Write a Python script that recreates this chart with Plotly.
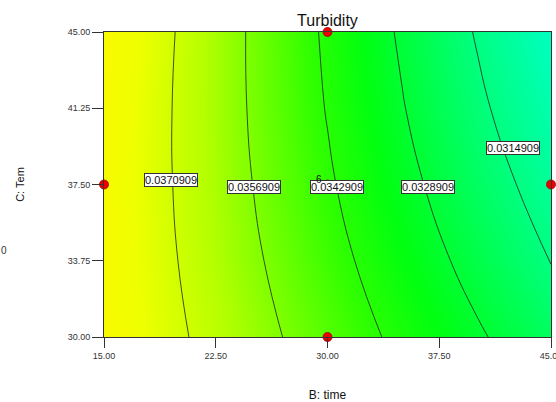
import plotly.graph_objects as go

# axis grid (B: time, C: Tem) and estimated turbidity response
time_vals = [15, 20, 25, 30, 35, 40, 45]
tem_vals = [30, 33.75, 37.5, 41.25, 45]
turbidity = [
    [0.038430, 0.037249, 0.036119, 0.035040, 0.034013, 0.033035, 0.032110],
    [0.038348, 0.037080, 0.035863, 0.034698, 0.033583, 0.032520, 0.031460],
    [0.038340, 0.036985, 0.035683, 0.034430, 0.033229, 0.032079, 0.030980],
    [0.038408, 0.036967, 0.035576, 0.034238, 0.032950, 0.031713, 0.030528],
    [0.038550, 0.037022, 0.035546, 0.034120, 0.032746, 0.031422, 0.030150],
]

# contour levels shown on the chart and where their labels sit
levels = [0.0314909, 0.0328909, 0.0342909, 0.0356909, 0.0370909]
label_time = [42.45, 36.74, 30.64, 25.07, 19.5]
label_tem = [39.3, 37.38, 37.38, 37.38, 37.72]

# design points
pt_time = [15, 30, 30, 30, 45]
pt_tem = [37.5, 45, 37.5, 30, 37.5]
center_count = "6"

zlo, zhi = 0.0300, 0.0388
stops = [
    (0.0300, "#00FFC8"),
    (0.0318, "#00FF70"),
    (0.0335, "#00FF10"),
    (0.0345, "#30FF00"),
    (0.0365, "#B4FF00"),
    (0.0378, "#EEFF00"),
    (0.0388, "#FFF800"),
]
colorscale = [[(v - zlo) / (zhi - zlo), c] for v, c in stops]

fig = go.Figure()

fig.add_trace(go.Contour(
    x=time_vals, y=tem_vals, z=turbidity,
    zmin=zlo, zmax=zhi,
    colorscale=colorscale,
    showscale=False,
    contours=dict(coloring="heatmap", start=levels[0], end=levels[-1],
                  size=levels[1] - levels[0], showlabels=False),
    line=dict(color="#222", width=0.8, smoothing=1.3),
    hoverinfo="skip",
))

fig.add_trace(go.Scatter(
    x=pt_time, y=pt_tem, mode="markers",
    marker=dict(size=9, color="#EE0000", line=dict(color="#990000", width=0.8)),
    cliponaxis=False, showlegend=False, hoverinfo="skip",
))

for lv, lx, ly in zip(levels, label_time, label_tem):
    fig.add_annotation(
        x=lx, y=ly, text=f"{lv:.7f}", showarrow=False,
        font=dict(size=11, color="#111"),
        bgcolor="white", bordercolor="#333", borderwidth=1, borderpad=0,
    )

fig.add_annotation(x=30, y=37.5, text=center_count, showarrow=False,
                   xshift=-9, yshift=5, font=dict(size=10, color="#111"))
fig.add_annotation(x=-0.226, y=0.259, xref="paper", yref="paper", text="0",
                   showarrow=False, xshift=-4, font=dict(size=10, color="#333"))

fig.update_layout(
    width=556, height=402,
    margin=dict(l=104, r=5, t=32, b=65),
    paper_bgcolor="white", plot_bgcolor="white",
    font=dict(family="Arial, Liberation Sans, sans-serif", color="#333"),
    title=dict(text="Turbidity", x=0.589, xanchor="center", y=0.95, yanchor="middle",
               font=dict(size=16, color="#111")),
    xaxis=dict(range=[15, 45], tickvals=[15, 22.5, 30, 37.5, 45],
               ticktext=["15.00", "22.50", "30.00", "37.50", "45.00"],
               ticks="outside", ticklen=10, tickcolor="#333", showline=True,
               linecolor="#333", mirror=True, showgrid=False, zeroline=False,
               automargin=False, ticklabeloverflow="allow", tickfont=dict(size=9),
               title=dict(text="B: time", standoff=32, font=dict(size=12, color="#111"))),
    yaxis=dict(range=[30, 45], tickvals=[30, 33.75, 37.5, 41.25, 45],
               ticktext=["30.00", "33.75", "37.50", "41.25", "45.00"],
               ticks="outside", ticklen=11, tickcolor="#333", showline=True,
               linecolor="#333", mirror=True, showgrid=False, zeroline=False,
               automargin=False, tickfont=dict(size=9),
               title=dict(text="C: Tem", standoff=40, font=dict(size=11, color="#111"))),
)

# drop the default page margin so the figure sits at the window's top-left corner
fig.write_html("out.html", config={"displayModeBar": False},
               post_script="document.body.style.margin='0';")
